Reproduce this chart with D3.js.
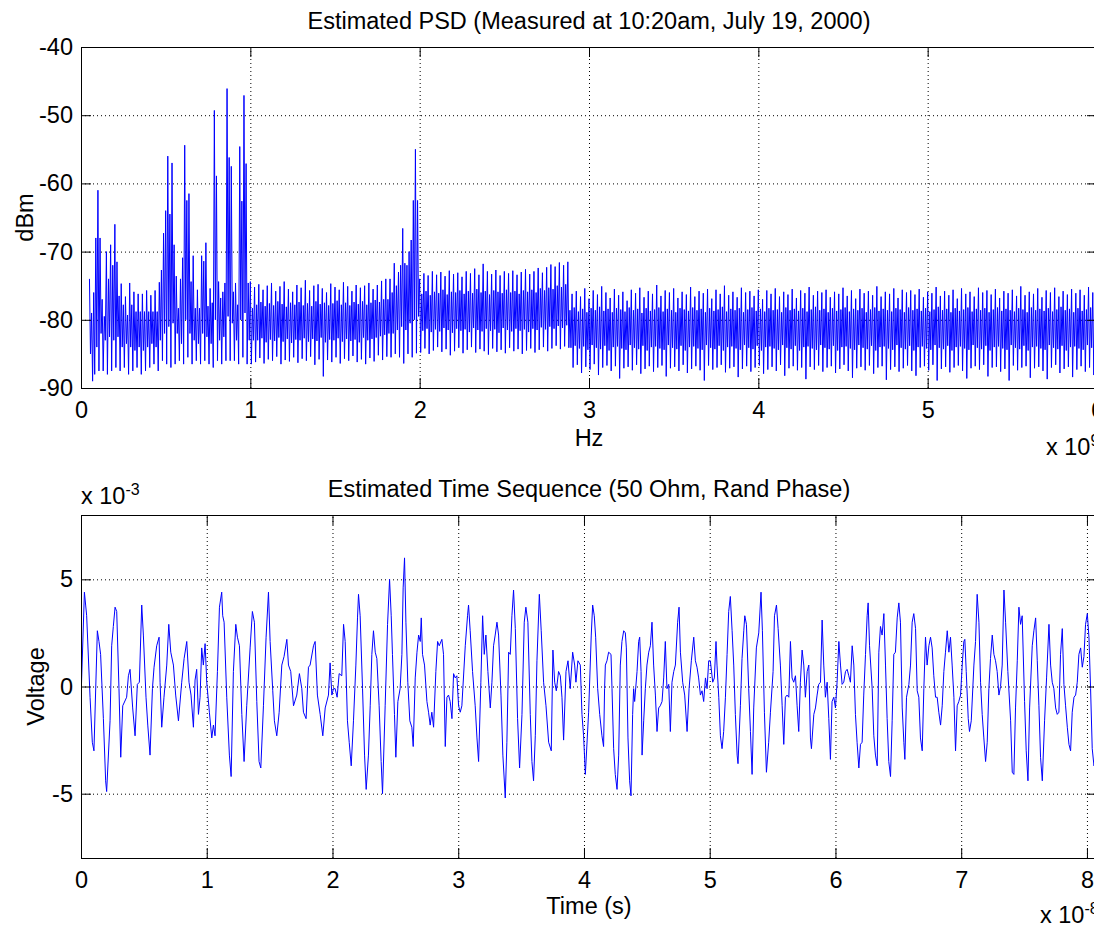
<!DOCTYPE html>
<html>
<head>
<meta charset="utf-8">
<script src="https://cdn.jsdelivr.net/npm/d3@7"></script>
<style>
  body { margin: 0; background: #fff; }
  svg { display: block; background: #fff; }
</style>
</head>
<body>
<svg id="chart"></svg>
<script>
// PSD: one stroke per bin, top value then bottom value (dBm), bins of 0.0125 x 1e9 Hz
const psdStart = 0.05;
const psdStep = 0.0125;

const psdHigh = [
  -74, -79, -76, -68, -61, -68, -77, -79.5, -70, -74,
  -69, -72, -66, -71.5, -76.5, -74.7, -77.8, -76.6, -79.3, -74.6,
  -77.8, -75.9, -78.8, -76.2, -78.8, -76.2, -78.8, -75.7, -78.8, -76.4,
  -78.8, -75.7, -78.8, -74.5, -72.7, -67.3, -64, -56, -64.5, -57,
  -69, -73.6, -78.3, -74, -70.9, -54.4, -62.5, -61.5, -74.4, -70.6,
  -78.3, -75.6, -78.3, -70.6, -71.4, -68.7, -78, -75.4, -77.5, -49.3,
  -58.9, -74.4, -76.8, -75.9, -74.6, -46.1, -56.2, -57.5, -75.9, -74.6,
  -77.8, -54.6, -62.6, -47.1, -57.1, -74.6, -74.4, -78.3,
  // 1.0 - 1.8
  -75.2, -77.8, -74.8, -77.4, -75.6, -78.0, -75.0, -77.6, -74.6, -77.9,
  -75.8, -77.3, -75.1, -77.7, -74.4, -78.1, -75.5, -77.5, -75.9, -77.8,
  -74.9, -77.4, -75.3, -77.9, -74.2, -77.6, -75.7, -78.0, -75.0, -77.3,
  -74.8, -77.7, -75.4, -77.5, -76.0, -77.9, -74.7, -77.6, -75.2, -77.2,
  -75.6, -77.8, -74.5, -77.5, -75.1, -77.9, -75.8, -77.4, -74.9, -77.7,
  -75.3, -77.3, -75.0, -77.8, -74.6, -77.5, -75.5, -77.1, -74.9, -77.4,
  -74.3, -77.0, -74.0, -77.0,
  // 1.8 - 2.0
  -74, -76, -71.7, -75, -73, -72, -66.6, -71.7, -72, -70, -68.3, -62.5, -55, -62.5,
  // 2.0 - 2.88
  -74.0, -76.2, -73.2, -75.8, -73.5, -76.4, -72.9, -75.9, -73.4, -76.1,
  -73.0, -75.6, -73.6, -76.3, -72.8, -75.9, -73.3, -76.0, -73.1, -75.7,
  -73.7, -76.2, -72.9, -75.8, -73.2, -76.1, -72.5, -75.5, -73.4, -76.0,
  -71.8, -75.8, -72.9, -76.3, -73.3, -75.7, -72.7, -75.9, -73.5, -76.1,
  -72.9, -75.6, -73.2, -76.0, -72.8, -75.8, -73.4, -76.2, -73.0, -75.7,
  -72.6, -75.9, -73.3, -75.6, -72.9, -76.0, -72.4, -75.4, -73.1, -75.7,
  -72.3, -75.3, -71.9, -75.5, -72.2, -75.0, -71.6, -75.2, -72.0, -74.8,
  -71.5,
  // 2.89 - 6.0
  -78.6,
  -76.2, -78.2, -75.8, -78.8, -76.6, -78.4, -75.4, -78.9, -76.9, -78.3, -75.7, -78.6, -76.3, -78.1, -75.1, -78.7, -76.0, -78.4, -76.8, -78.9,
  -75.5, -78.3, -76.4, -78.5, -75.9, -78.8, -77.2, -78.2, -75.6, -78.6, -76.1, -78.4, -75.3, -79.0, -76.7, -78.3, -75.8, -78.7, -76.2, -78.5,
  -74.9, -78.2, -76.5, -78.8, -75.7, -78.4, -76.0, -78.6, -75.4, -78.9, -76.8, -78.3, -75.9, -78.5, -76.3, -78.7, -75.2, -78.2, -76.6, -78.6,
  -75.8, -78.4, -76.1, -78.9, -75.5, -78.3, -76.9, -78.7, -75.6, -78.5, -76.2, -78.1, -75.0, -78.8, -76.4, -78.4, -75.9, -78.6, -76.7, -78.3,
  -75.3, -78.9, -76.0, -78.5, -75.8, -78.2, -76.5, -78.7, -75.6, -78.4, -77.0, -78.8, -75.7, -78.3, -76.2, -78.6, -75.4, -78.5, -76.6, -78.9,
  -75.9, -78.2, -76.3, -78.6, -75.5, -78.4, -76.8, -78.7, -75.7, -78.3, -76.1, -78.8, -75.2, -78.5, -76.4, -78.1, -75.8, -78.6, -76.0, -78.4,
  -75.6, -78.9, -76.7, -78.3, -75.9, -78.7, -76.2, -78.5, -75.3, -78.2, -76.5, -78.8, -75.7, -78.4, -76.9, -78.6, -75.5, -78.3, -76.1, -78.9,
  -75.8, -78.5, -76.4, -78.2, -75.1, -78.7, -76.6, -78.4, -75.9, -78.6, -76.2, -78.8, -75.4, -78.3, -76.8, -78.5, -75.6, -78.9, -76.0, -78.2,
  -75.7, -78.6, -76.3, -78.4, -75.5, -78.7, -76.7, -78.3, -75.9, -78.8, -76.1, -78.5, -75.2, -78.1, -76.5, -78.6, -75.8, -78.4, -76.4, -78.9,
  -75.6, -78.3, -76.9, -78.7, -75.4, -78.5, -76.2, -78.2, -75.9, -78.8, -76.6, -78.4, -75.3, -78.6, -76.0, -78.3, -75.7, -78.9, -76.3, -78.5,
  -75.5, -78.2, -76.8, -78.7, -75.8, -78.4, -76.1, -78.6, -75.6, -78.8, -76.5, -78.3, -75.1, -78.5, -76.4, -78.9, -75.9, -78.2, -76.2, -78.6,
  -75.4, -78.4, -76.7, -78.7, -75.7, -78.3, -76.0, -78.8, -75.3, -78.5, -76.6, -78.1, -75.8, -78.6, -76.3, -78.4, -75.5, -78.9, -76.1, -78.3,
  -75.6, -78.7, -76.4, -78.5, -75.2, -78.2, -76.0, -78.6
];

const psdLow = [
  -85, -89, -88, -84, -87.5, -82, -87.5, -83, -88, -82.5,
  -87.5, -83, -87, -82.5, -87.5, -84, -87, -83.5, -88, -84,
  -87.5, -84.5, -87, -84, -88, -84.5, -87.5, -84, -87, -83.5,
  -86.5, -84, -87.5, -83, -86, -82, -86.5, -81, -87, -80.5,
  -86.5, -82, -86, -83.5, -86.5, -80, -85.5, -82, -86.5, -83,
  -86, -83.5, -86.5, -82, -86, -82.5, -86.5, -83.5, -87, -80,
  -86, -83, -86.5, -82.5, -86, -79.5, -86, -80.5, -86, -83,
  -86.5, -80, -85.5, -79, -86.5, -83, -86.5, -83,
  // 1.0 - 1.8
  -86.2, -83.0, -85.6, -82.7, -86.4, -83.3, -85.8, -82.9, -86.0, -83.1,
  -85.4, -82.6, -86.5, -83.2, -85.9, -82.8, -86.1, -83.4, -85.5, -82.9,
  -86.3, -83.0, -85.7, -82.7, -86.0, -83.2, -85.4, -82.8, -86.6, -83.1,
  -85.8, -82.6, -88.3, -83.3, -85.9, -82.9, -86.2, -83.0, -85.5, -82.7,
  -86.4, -83.2, -85.7, -82.8, -86.0, -83.1, -85.3, -82.9, -86.2, -83.3,
  -85.8, -82.6, -86.5, -83.0, -85.6, -82.8, -86.1, -82.6, -85.2, -82.4,
  -85.9, -82.2, -85.4, -82.0,
  // 1.8 - 2.0
  -85.5, -82, -85, -81.5, -85.5, -81, -86.4, -81.5, -85, -80.5, -85.5, -80, -84.9, -79.5,
  // 2.0 - 2.88
  -84.8, -81.6, -84.2, -81.3, -85.0, -81.8, -84.5, -81.4, -84.0, -81.7,
  -84.7, -81.2, -84.3, -81.5, -85.2, -81.9, -84.6, -81.3, -84.1, -81.6,
  -84.9, -81.4, -84.4, -81.8, -84.0, -81.2, -84.8, -81.5, -84.3, -81.7,
  -84.6, -81.3, -85.1, -81.6, -84.2, -81.4, -84.7, -81.9, -84.4, -81.2,
  -84.9, -81.5, -84.1, -81.7, -84.6, -81.3, -84.3, -81.6, -85.0, -81.4,
  -84.5, -81.8, -84.2, -81.3, -84.8, -81.5, -84.4, -81.1, -84.0, -81.4,
  -84.6, -81.0, -84.2, -81.3, -83.8, -80.9, -84.3, -81.2, -83.9, -80.8,
  -84.1,
  // 2.89 - 6.0
  -84.1,
  -87.0, -83.8, -86.6, -84.2, -87.8, -83.9, -86.9, -84.4, -87.3, -83.7, -86.5, -84.1, -88.1, -84.3, -87.0, -83.8, -86.7, -84.5, -87.5, -84.0,
  -86.8, -83.9, -88.6, -84.2, -87.1, -84.4, -86.9, -83.7, -87.4, -84.1, -86.6, -84.3, -87.9, -83.8, -87.2, -84.5, -86.8, -84.0, -87.6, -83.9,
  -87.0, -84.2, -86.7, -84.4, -88.3, -83.7, -87.1, -84.1, -86.9, -84.3, -87.5, -83.8, -86.6, -84.5, -87.8, -84.0, -87.2, -83.9, -86.8, -84.2,
  -87.4, -84.4, -88.9, -83.7, -86.7, -84.1, -87.3, -84.3, -87.0, -83.8, -86.6, -84.5, -87.7, -84.0, -87.1, -83.9, -86.9, -84.2, -88.4, -84.4,
  -87.2, -83.7, -86.8, -84.1, -87.6, -84.3, -87.0, -83.8, -86.7, -84.5, -87.9, -84.0, -87.3, -83.9, -86.9, -84.2, -87.5, -84.4, -86.6, -83.7,
  -88.2, -84.1, -87.1, -84.3, -86.8, -83.8, -87.4, -84.5, -87.0, -84.0, -88.7, -83.9, -86.9, -84.2, -87.3, -84.4, -86.7, -83.7, -87.6, -84.1,
  -87.0, -84.3, -86.8, -83.8, -87.8, -84.5, -87.2, -84.0, -86.6, -83.9, -87.5, -84.2, -88.5, -84.4, -87.1, -83.7, -86.9, -84.1, -87.4, -84.3,
  -86.7, -83.8, -87.9, -84.5, -87.0, -84.0, -86.8, -83.9, -88.8, -84.2, -87.3, -84.4, -86.9, -83.7, -87.6, -84.1, -87.1, -84.3, -86.7, -83.8,
  -87.5, -84.5, -88.2, -84.0, -87.0, -83.9, -86.8, -84.2, -87.4, -84.4, -86.6, -83.7, -88.9, -84.1, -87.2, -84.3, -86.9, -83.8, -87.7, -84.5,
  -87.0, -84.0, -86.7, -83.9, -87.5, -84.2, -88.6, -84.4, -87.1, -83.7, -86.8, -84.1, -87.3, -84.3, -86.6, -83.8, -88.3, -84.5, -87.0, -84.0,
  -86.9, -83.9, -87.6, -84.2, -87.2, -84.4, -88.9, -83.7, -86.7, -84.1, -87.4, -84.3, -87.0, -83.8, -86.8, -84.5, -88.5, -84.0, -87.1, -83.9,
  -86.9, -84.2, -87.5, -84.4, -88.7, -83.7, -87.0, -84.1, -86.6, -84.3, -87.8, -83.8, -87.2, -84.5, -86.9, -84.0, -88.4, -83.9, -87.3, -84.2,
  -86.8, -84.4, -87.6, -83.7, -87.0, -84.1, -88.1, -84.3
];

// time sequence: [time x1e-8 s, voltage x1e-3 V]
const timeSeq = [
  [0, -0.6], [0.027, 4.4], [0.037, 3.8], [0.045, 3.3], [0.072, -0.5], [0.090, -2.6], [0.103, -3.0], [0.130, 2.6], [0.143, 2.1], [0.156, 1.5],
  [0.178, -1.5], [0.196, -4.4], [0.204, -4.9], [0.231, -1.6], [0.244, 1.9], [0.257, 2.8], [0.271, 3.7], [0.284, 3.5], [0.302, -0.1], [0.316, -3.3],
  [0.332, -0.9], [0.363, -0.5], [0.377, 0.5], [0.390, 0.8], [0.411, -1.0], [0.430, -2.3], [0.448, 0.1], [0.464, 0.2], [0.483, 3.8], [0.496, 2.4],
  [0.517, -0.5], [0.531, -1.8], [0.549, -3.2], [0.568, -0.1], [0.581, 0.9], [0.602, 1.9], [0.621, 2.3], [0.629, 0.2], [0.642, -1.9], [0.660, -0.5],
  [0.682, 1.0], [0.698, 2.9], [0.714, 1.6], [0.735, 1.0], [0.753, -0.4], [0.775, -1.6], [0.801, 0.2], [0.820, 1.3], [0.841, 2.1], [0.859, 0.2],
  [0.875, -0.4], [0.894, -1.9], [0.907, 0.3], [0.920, 0.8], [0.934, -1.3], [0.947, -0.5], [0.960, 1.8], [0.973, 1.0], [0.987, 2.0], [1.000, 0.2],
  [1.021, -1.2], [1.040, -2.4], [1.053, -1.8], [1.066, -2.3], [1.085, 0.7], [1.101, 3.7], [1.119, 4.4], [1.127, 3.3], [1.138, 3.0], [1.159, -0.5],
  [1.180, -3.2], [1.194, -4.2], [1.212, 0.7], [1.231, 2.9], [1.244, 2.3], [1.260, 1.9], [1.279, -1.3], [1.297, -3.5], [1.318, -0.9], [1.345, 1.8],
  [1.363, 3.5], [1.379, 3.0], [1.398, -0.7], [1.416, -3.5], [1.430, -3.8], [1.451, -0.9], [1.472, 2.3], [1.491, 4.4], [1.504, 2.1], [1.525, -0.2],
  [1.538, -1.6], [1.557, -2.3], [1.576, -1.2], [1.597, 1.0], [1.615, 1.4], [1.637, 2.2], [1.650, 1.0], [1.668, 0.7], [1.690, -0.9], [1.716, -0.4],
  [1.737, 0.6], [1.756, -0.1], [1.769, -1.2], [1.790, -1.5], [1.809, 0.9], [1.822, 1.0], [1.849, 1.9], [1.862, 2.1], [1.880, -0.4], [1.902, -1.3],
  [1.923, -2.3], [1.942, -1.0], [1.968, -0.4], [1.981, 1.1], [1.995, -0.4], [2.008, -0.1],
  [2.021, -0.1], [2.037, -0.5], [2.053, 0.6], [2.074, 0.5], [2.088, 2.9], [2.101, 2.1], [2.119, -1.6], [2.133, -2.6], [2.149, -3.7], [2.167, -1.6],
  [2.186, 1.0], [2.199, 3.2], [2.207, 4.3], [2.220, 3.3], [2.239, -0.1], [2.255, -3.2], [2.268, -4.8], [2.286, -3.2], [2.300, -0.9], [2.313, 1.5],
  [2.326, 2.6], [2.340, 1.6], [2.353, 1.3], [2.371, -0.9], [2.387, -3.5], [2.398, -5.0], [2.419, -0.9], [2.438, 2.9], [2.454, 5.0], [2.467, 3.3],
  [2.477, 1.5], [2.493, -1.3], [2.504, -3.3], [2.520, -0.7], [2.538, -0.1], [2.552, 1.5], [2.562, 4.6], [2.573, 6.0], [2.584, 3.0], [2.599, 0.2],
  [2.615, -1.6], [2.631, -1.9], [2.642, -2.8], [2.658, 0.4], [2.672, 1.6], [2.685, 2.4], [2.698, 2.1], [2.706, 3.2], [2.716, 1.5], [2.732, 1.0],
  [2.751, -0.7], [2.764, -1.2], [2.777, -1.8], [2.790, -1.2], [2.804, -1.9], [2.822, 0.7], [2.836, 2.1], [2.849, 1.9], [2.870, 2.2], [2.883, 1.5],
  [2.897, -2.8], [2.910, -0.5], [2.923, -0.4], [2.936, -0.7], [2.950, -1.5], [2.963, 0.6], [2.976, 0.4], [2.989, 0.5], [3.003, -0.9], [3.016, -1.2],
  [3.029, -0.9], [3.056, 1.9], [3.074, 3.3], [3.082, 3.8], [3.095, 2.6], [3.114, 0.7], [3.135, -0.9], [3.149, -2.4], [3.162, -3.5], [3.180, 0.2],
  [3.194, 3.3], [3.207, 1.5], [3.220, 2.4], [3.236, 0.7], [3.255, -1.0], [3.268, 0.2], [3.281, 1.9], [3.294, 2.4], [3.308, 3.0], [3.321, 2.4],
  [3.340, -0.4], [3.355, -3.2], [3.374, -5.2], [3.387, -2.6], [3.401, 1.6], [3.414, 1.5], [3.427, 3.3], [3.440, 4.5], [3.454, 2.7], [3.472, -1.5],
  [3.488, -3.8], [3.507, -1.3], [3.525, 3.0], [3.538, 3.7], [3.554, 3.0], [3.573, -1.3], [3.586, -3.5], [3.599, -4.4], [3.613, -2.3], [3.626, 1.2],
  [3.645, 4.3], [3.660, 2.6], [3.679, 0.2], [3.698, -0.9], [3.719, -2.6], [3.740, -3.0], [3.753, 1.7], [3.767, 0.2], [3.780, -0.2], [3.798, 0.7],
  [3.812, 0.5], [3.825, -0.5], [3.838, -2.5], [3.857, 0.7], [3.873, 1.2], [3.891, -0.1], [3.910, 1.6], [3.926, 1.0], [3.936, 0.2], [3.952, 1.2],
  [3.971, 1.0], [3.984, -1.3], [3.997, -2.3], [4.011, -4.1], [4.037, -1.2],
  [4.058, 2.4], [4.069, 3.8], [4.082, 3.3], [4.093, 2.3], [4.109, -0.1], [4.125, -1.3], [4.143, -2.3], [4.156, -2.8], [4.164, -0.1], [4.170, 1.0],
  [4.183, 1.2], [4.196, 1.6], [4.215, 1.5], [4.223, -0.1], [4.236, -2.9], [4.249, -4.1], [4.263, -4.8], [4.276, -3.2], [4.289, 1.0], [4.302, 2.1],
  [4.316, 2.6], [4.329, 2.5], [4.337, 1.8], [4.350, -2.4], [4.363, -4.4], [4.374, -5.1], [4.387, -1.3], [4.395, -0.1], [4.403, -0.7], [4.422, 0.7],
  [4.435, 2.1], [4.443, 2.3], [4.454, 0.7], [4.462, -3.2], [4.475, -1.6], [4.488, -0.1], [4.501, 1.0], [4.515, 1.6], [4.528, 1.9], [4.541, 3.0],
  [4.554, 1.0], [4.568, -0.4], [4.581, -2.1], [4.594, -1.0], [4.607, -0.9], [4.621, -0.7], [4.634, 0.4], [4.647, 2.1], [4.660, -0.1], [4.674, 0.1],
  [4.687, -2.1], [4.700, 0.2], [4.714, 0.7], [4.727, 1.0], [4.745, 3.0], [4.756, 3.7], [4.767, 1.6], [4.785, 0.2], [4.801, -0.4], [4.820, -2.1],
  [4.836, -0.1], [4.854, 1.2], [4.873, 2.3], [4.886, 1.2], [4.899, 0.9], [4.912, 0.4], [4.926, -0.4], [4.939, -0.2], [4.952, -0.7], [4.966, 0.4],
  [4.979, -0.1], [4.992, 1.2], [5.005, 1.2], [5.024, 0.2], [5.037, 0.4], [5.050, 2.1], [5.058, 1.0], [5.072, -0.5], [5.085, -2.3], [5.098, -2.9],
  [5.111, -2.1], [5.125, -0.5], [5.138, 1.5], [5.151, 3.5], [5.164, 4.2], [5.178, 2.6], [5.191, 1.0], [5.204, -1.3], [5.218, -3.2], [5.225, -3.6],
  [5.244, -0.9], [5.257, 1.3], [5.271, 2.6], [5.279, 3.3], [5.292, 2.9], [5.310, -0.1], [5.324, -2.1], [5.337, -4.1], [5.350, -1.0], [5.371, 1.8],
  [5.390, 2.5], [5.408, 4.4], [5.419, 2.6], [5.435, -1.2], [5.451, -4.0], [5.469, -2.6], [5.483, -1.2], [5.504, 0.7], [5.515, 3.3], [5.531, 3.8],
  [5.544, 2.7], [5.562, 1.0], [5.576, -0.9], [5.589, -2.7], [5.602, -0.5], [5.615, -0.4], [5.629, -0.5], [5.642, 2.1], [5.655, 0.4], [5.668, 0.2],
  [5.682, 0.5], [5.695, -0.9], [5.708, -2.1], [5.721, 0.2], [5.735, 1.7], [5.748, 1.0], [5.761, -0.5], [5.775, 0.7], [5.788, 1.0], [5.801, -2.4],
  [5.809, -2.9], [5.828, -1.3], [5.841, -1.0], [5.854, -0.4], [5.867, 0.1], [5.881, 0.2], [5.894, 3.1], [5.907, 1.0], [5.920, -0.5], [5.934, 0.2],
  [5.947, -1.5], [5.960, -3.4], [5.973, -0.7], [5.987, -0.5], [6.000, -1.0], [6.013, 0.2], [6.027, 2.1], [6.040, 1.0], [6.053, 0.1], [6.066, 0.2],
  [6.080, 0.7], [6.093, 0.8],
  [6.106, 0.5], [6.119, 0.2], [6.133, 1.9], [6.146, 1.0], [6.159, -1.3], [6.172, -2.6], [6.186, -3.8], [6.199, -2.7], [6.212, -2.6], [6.225, -0.4],
  [6.239, 1.5], [6.252, 3.3], [6.260, 3.9], [6.271, 1.9], [6.292, -0.1], [6.305, -2.3], [6.318, -3.2], [6.332, -3.7], [6.345, 1.6], [6.358, 2.8],
  [6.371, 2.4], [6.385, 3.4], [6.398, 1.0], [6.411, -1.5], [6.424, -3.5], [6.438, -4.2], [6.451, -1.6], [6.464, 1.5], [6.477, 1.6], [6.491, 3.2],
  [6.504, 3.9], [6.517, 3.0], [6.531, -1.0], [6.544, -2.6], [6.552, -3.4], [6.565, -0.5], [6.584, 0.1], [6.597, 1.0], [6.610, 3.0], [6.623, 3.4],
  [6.637, 2.7], [6.650, -0.2], [6.663, -0.5], [6.676, -2.4], [6.690, -3.0], [6.703, -0.1], [6.716, 2.3], [6.729, 1.0], [6.743, 1.9], [6.756, 2.3],
  [6.769, 1.8], [6.782, 0.5], [6.796, -0.5], [6.809, -0.5], [6.822, -1.2], [6.836, -1.8], [6.849, -0.9], [6.862, 0.7], [6.875, 1.6], [6.889, 2.6],
  [6.902, 1.6], [6.915, 2.3], [6.928, 1.0], [6.942, -0.5], [6.955, -3.0], [6.968, -0.9], [6.981, -0.7], [6.995, -0.4], [7.008, 1.0], [7.021, 2.1],
  [7.029, 2.2], [7.040, 0.7], [7.056, -1.5], [7.066, -2.1], [7.080, -1.6], [7.101, 1.0], [7.114, 2.1], [7.127, 4.3], [7.141, 3.0], [7.154, 0.2],
  [7.167, -1.3], [7.180, -2.4], [7.194, -3.5], [7.207, -2.6], [7.220, -0.1], [7.233, 1.3], [7.247, 2.4], [7.260, 1.5], [7.273, 1.2], [7.286, 0.7],
  [7.300, -0.4], [7.313, 0.0], [7.326, 1.0], [7.340, 4.5], [7.353, 3.0], [7.371, 0.7], [7.393, -1.6], [7.406, -4.0], [7.419, -4.1], [7.432, -1.0],
  [7.446, 1.2], [7.459, 3.7], [7.472, 2.9], [7.485, 3.3], [7.504, -0.7], [7.517, -3.0], [7.531, -4.4], [7.544, -1.0], [7.565, 1.9], [7.578, 2.6],
  [7.592, 3.2], [7.605, 1.2], [7.618, -0.9], [7.631, -3.3], [7.645, -4.4], [7.663, -1.6], [7.679, 0.4], [7.698, 2.9], [7.711, 1.0], [7.724, 0.2],
  [7.737, -0.1], [7.751, -1.0], [7.764, -1.3], [7.777, -1.2], [7.790, 1.5], [7.804, 2.7], [7.817, 0.1], [7.830, -0.9], [7.844, -1.9], [7.857, -2.7],
  [7.870, -3.0], [7.883, -1.2], [7.897, -0.5], [7.910, -0.4], [7.923, 0.2], [7.936, 1.5], [7.950, 1.8], [7.963, 0.9], [7.976, 1.4], [7.989, 2.9],
  [8.003, 3.4], [8.016, 2.3], [8.029, -0.1], [8.042, -2.9], [8.056, -3.7], [8.075, -3.2]
];

const psdXTicks = [0, 1, 2, 3, 4, 5, 6];
const psdYTicks = [-90, -80, -70, -60, -50, -40];
const seqXTicks = [0, 1, 2, 3, 4, 5, 6, 7, 8];
const seqYTicks = [-5, 0, 5];

const width = 1094;
const height = 926;
const plotLeft = 81;
const plotRight = 1097; // right edge of both axes falls just outside the picture
const font = '"Liberation Sans", Arial, Helvetica, sans-serif';
const fontSize = 23.5;
const tickLen = 10;

const svg = d3.select('#chart')
  .attr('width', width)
  .attr('height', height)
  .attr('viewBox', `0 0 ${width} ${height}`)
  .style('font-family', font);

function drawPanel(cfg) {
  const x = d3.scaleLinear().domain(cfg.xDomain).range([plotLeft, plotRight]);
  const y = d3.scaleLinear().domain(cfg.yDomain).range([cfg.bottom, cfg.top]);
  const g = svg.append('g');
  const h = cfg.bottom - cfg.top;

  // Dotted grid

  const inside = (ticks, dom) => ticks.filter(v => v > dom[0] && v < dom[1]);

  g.append('g')
    .attr('transform', `translate(0,${cfg.bottom})`)
    .call(d3.axisBottom(x).tickValues(inside(cfg.xTicks, cfg.xDomain)).tickSize(-h).tickFormat(''))
    .call(a => a.select('.domain').remove())
    .selectAll('line')
    .attr('stroke', '#000')
    .attr('stroke-dasharray', '1,3');

  g.append('g')
    .attr('transform', `translate(${plotLeft},0)`)
    .call(d3.axisLeft(y).tickValues(inside(cfg.yTicks, cfg.yDomain)).tickSize(-(plotRight - plotLeft)).tickFormat(''))
    .call(a => a.select('.domain').remove())
    .selectAll('line')
    .attr('stroke', '#000')
    .attr('stroke-dasharray', '1,3');

  // Data

  const clipId = `clip-${cfg.id}`;
  svg.append('clipPath').attr('id', clipId)
    .append('rect')
    .attr('x', plotLeft).attr('y', cfg.top)
    .attr('width', plotRight - plotLeft).attr('height', h);

  g.append('path')
    .datum(cfg.points)
    .attr('clip-path', `url(#${clipId})`)
    .attr('fill', 'none')
    .attr('stroke', '#0000ff')
    .attr('stroke-width', 1)
    .attr('stroke-linejoin', 'miter')
    .attr('d', d3.line().x(d => x(d[0])).y(d => y(d[1])));

  // Axes, ticks inside on all four sides

  const label = d => String(d);

  const axes = [
    [`translate(0,${cfg.bottom})`, d3.axisBottom(x).tickValues(cfg.xTicks).tickPadding(13).tickFormat(label)],
    [`translate(0,${cfg.top})`, d3.axisTop(x).tickValues(cfg.xTicks).tickFormat('')],
    [`translate(${plotLeft},0)`, d3.axisLeft(y).tickValues(cfg.yTicks).tickPadding(8).tickFormat(label)],
    [`translate(${plotRight},0)`, d3.axisRight(y).tickValues(cfg.yTicks).tickFormat('')],
  ];
  axes.forEach(([tr, axis]) => {
    g.append('g')
      .attr('transform', tr)
      .call(axis.tickSizeInner(-tickLen).tickSizeOuter(0))
      .call(a => a.select('.domain').remove())
      .attr('font-size', fontSize)
      .attr('font-family', font)
      .call(a => a.selectAll('line').attr('stroke', '#000'))
      .call(a => a.selectAll('text').attr('fill', '#000'));
  });

  g.append('rect')
    .attr('x', plotLeft + 0.5).attr('y', cfg.top + 0.5)
    .attr('width', plotRight - plotLeft).attr('height', h)
    .attr('fill', 'none')
    .attr('stroke', '#000')
    .attr('stroke-width', 1);

  // Texts

  g.append('text')
    .attr('x', (plotLeft + plotRight) / 2).attr('y', cfg.titleY)
    .attr('text-anchor', 'middle').attr('font-size', fontSize)
    .text(cfg.title);

  g.append('text')
    .attr('x', (plotLeft + plotRight) / 2).attr('y', cfg.xLabelY)
    .attr('text-anchor', 'middle').attr('font-size', fontSize)
    .text(cfg.xLabel);

  g.append('text')
    .attr('transform', `translate(${cfg.yLabelX},${(cfg.top + cfg.bottom) / 2}) rotate(-90)`)
    .attr('text-anchor', 'middle').attr('font-size', fontSize)
    .text(cfg.yLabel);

  cfg.exponents.forEach(e => {
    const t = g.append('text')
      .attr('x', e.x).attr('y', e.y)
      .attr('font-size', fontSize);
    t.append('tspan').text('x 10');
    t.append('tspan').attr('dy', -9).attr('font-size', 16).text(e.power);
  });
}

const psdPoints = psdHigh.flatMap((hi, i) => {
  const f = psdStart + i * psdStep;
  return [[f, hi], [f + psdStep * 0.48, psdLow[i]]];
});

drawPanel({
  id: 'psd',
  top: 47, bottom: 388,
  xDomain: [0, 6], yDomain: [-90, -40],
  xTicks: psdXTicks, yTicks: psdYTicks,
  points: psdPoints,
  title: 'Estimated PSD (Measured at 10:20am, July 19, 2000)', titleY: 28.5,
  xLabel: 'Hz', xLabelY: 446,
  yLabel: 'dBm', yLabelX: 33,
  exponents: [{ x: 1046, y: 455, power: '9' }],
});

drawPanel({
  id: 'seq',
  top: 515, bottom: 858,
  xDomain: [0, 8.08], yDomain: [-8, 8],
  xTicks: seqXTicks, yTicks: seqYTicks,
  points: timeSeq,
  title: 'Estimated Time Sequence (50 Ohm, Rand Phase)', titleY: 497,
  xLabel: 'Time (s)', xLabelY: 914,
  yLabel: 'Voltage', yLabelX: 44,
  exponents: [{ x: 81, y: 504, power: '-3' }, { x: 1040, y: 923, power: '-8' }],
});
</script>
</body>
</html>
